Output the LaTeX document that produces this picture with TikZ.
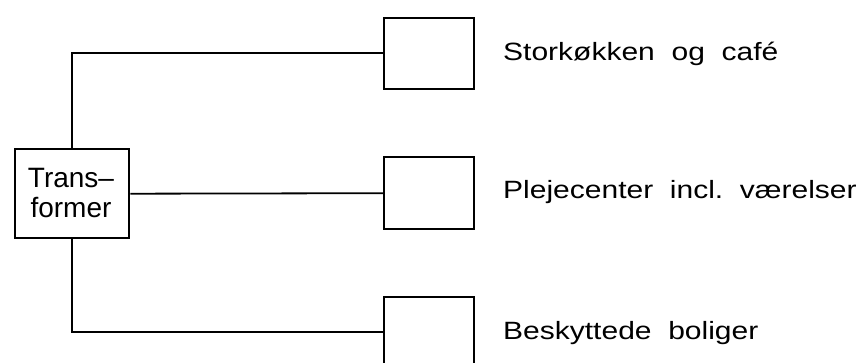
\documentclass[tikz,border=0pt]{standalone}
\usepackage{fontspec}
\setmainfont{Liberation Sans}
\begin{document}
\begin{tikzpicture}[x=1pt,y=-1pt,
  conn/.style={line width=1.8pt},
  box/.style={draw,line width=2.4pt,inner sep=0pt,anchor=north west},
  lbl/.style={anchor=west,inner sep=0pt,font=\fontsize{25}{25}\selectfont}]
\useasboundingbox (0,0) rectangle (858,363);
\begin{scope}
\clip (0,0) rectangle (858,363);
\node[box,minimum width=114pt,minimum height=89pt] (tr) at (14,148) {};
\node[align=center,inner sep=0pt,font=\fontsize{28}{30}\selectfont] (trt) at (71,193) {Trans--\\former};
\node[box,minimum width=90pt,minimum height=71pt] (b1) at (383,17) {};
\node[box,minimum width=90pt,minimum height=72pt] (b2) at (383,156) {};
\node[box,minimum width=90pt,minimum height=72pt] (b3) at (383,296) {};
\coordinate (c1) at (72,53);
\coordinate (c3) at (72,332);
\draw[conn] (tr.north -| c1) -- (c1) -- (c1 -| b1.west);
\draw[conn] (tr.east) -- (b2.west);
\draw[conn] (tr.south -| c3) -- (c3) -- (c3 -| b3.west);
\end{scope}
\node[lbl] (l1) at (503,54) {\scalebox{1.2}[1]{Storkøkken\ \ og\ \ café}};
\node[lbl] (l2) at (503,192) {\scalebox{1.2}[1]{Plejecenter\ \ incl.\ \ værelser}};
\node[lbl] (l3) at (503,333) {\scalebox{1.2}[1]{Beskyttede\ \ boliger}};
\end{tikzpicture}
\end{document}
